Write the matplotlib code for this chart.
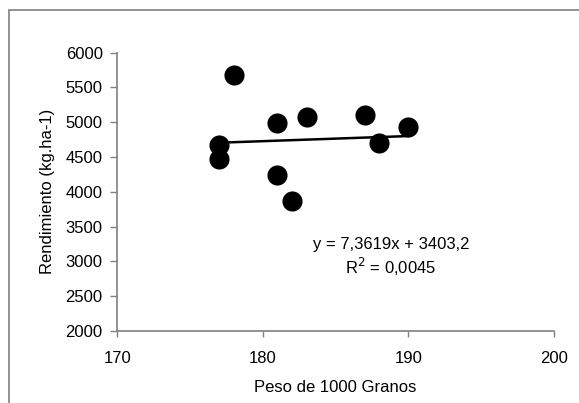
import matplotlib
matplotlib.use("Agg")
import matplotlib.pyplot as plt
from matplotlib.patches import Rectangle
import numpy as np

plt.rcParams['font.family'] = ['Liberation Sans', 'DejaVu Sans']

peso = [177, 177, 178, 181, 181, 182, 183, 187, 188, 190]
rendimiento = [4674, 4468, 5680, 4986, 4243, 3869, 5072, 5105, 4698, 4937]
slope = 7.3619
intercept = 3403.2
eq_text = "y = 7,3619x + 3403,2"
r2_text = "R$^2$ = 0,0045"
xticks = [170, 180, 190, 200]
yticks = [2000, 2500, 3000, 3500, 4000, 4500, 5000, 5500, 6000]

FS = 12

fig = plt.figure(figsize=(5.79, 4.03), dpi=100)
fig.patches.append(Rectangle((9/579, -0.05), 1.2, 1 - 10/403 + 0.05, transform=fig.transFigure,
                             fill=False, edgecolor='#808080', linewidth=1.2))
ax = fig.add_axes([117.3/579, 1 - 331/403, (554 - 117.3)/579, (331 - 52.7)/403])

ax.scatter(peso, rendimiento, s=210, color='black', zorder=3, linewidths=0)
xl = np.array([min(peso), max(peso)])
ax.plot(xl, slope * xl + intercept, color='black', linewidth=1.8, zorder=2)

ax.set_xlim(170, 200)
ax.set_ylim(2000, 6000)
ax.set_xticks(xticks)
ax.set_yticks(yticks)
for s in ['top', 'right']:
    ax.spines[s].set_visible(False)
for s in ['left', 'bottom']:
    ax.spines[s].set_color('#808080')
    ax.spines[s].set_linewidth(1.2)
ax.tick_params(axis='both', colors='#808080', width=1.0, labelcolor='black', labelsize=FS)
ax.tick_params(axis='x', length=4, pad=10.5)
ax.tick_params(axis='y', length=5, pad=5.5)

ax.set_xlabel("Peso de 1000 Granos", fontsize=FS, labelpad=10)
ax.set_ylabel("Rendimiento (kg.ha-1)", fontsize=FS, labelpad=7.5)

ax.text(391 / 579, 1 - 245 / 403, eq_text, transform=fig.transFigure,
        ha='center', va='center', fontsize=FS)
ax.text(391 / 579, 1 - 267 / 403, r2_text, transform=fig.transFigure,
        ha='center', va='center', fontsize=FS)

fig.savefig("out.png", dpi=100)
